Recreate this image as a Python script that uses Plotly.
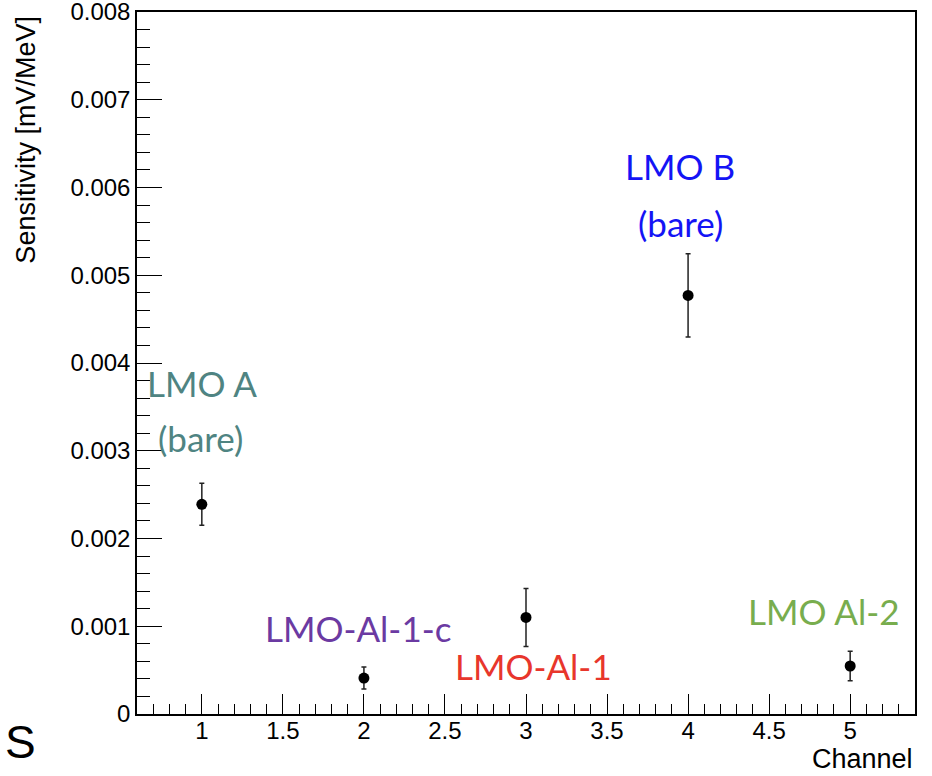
import plotly.graph_objects as go

channels = [1, 2, 3, 4, 5]
sensitivity = [0.00239, 0.00041, 0.00110, 0.00477, 0.000547]
sens_err = [0.00024, 0.000125, 0.00033, 0.000475, 0.000167]

y_tickvals = [0, 0.001, 0.002, 0.003, 0.004, 0.005, 0.006, 0.007, 0.008]
y_ticktext = ["0", "0.001", "0.002", "0.003", "0.004", "0.005", "0.006", "0.007", "0.008"]
x_tickvals = [1, 1.5, 2, 2.5, 3, 3.5, 4, 4.5, 5]
x_ticktext = ["1", "1.5", "2", "2.5", "3", "3.5", "4", "4.5", "5"]

label_texts = ["LMO A", "(bare)", "LMO B", "(bare)", "LMO-Al-1-c", "LMO-Al-1", "LMO Al-2"]
label_x = [1.0, 0.99, 3.953, 3.953, 1.965, 3.049, 4.835]
label_y = [0.00377, 0.00314, 0.00624, 0.0056, 0.00098, 0.000545, 0.00117]
label_colors = ["#4f8482", "#4f8482", "#1414f5", "#1414f5", "#6b3aa2", "#e8362c", "#78ad4e"]

fig = go.Figure()
fig.add_trace(go.Scatter(
    x=channels, y=sensitivity, mode="markers",
    marker=dict(color="black", size=11, symbol="circle"),
    error_y=dict(type="data", array=sens_err, visible=True, color="#222222", thickness=1.5, width=2.5),
    showlegend=False,
))

tick_font = dict(family="Liberation Sans, Arial, sans-serif", size=24, color="black")

fig.update_layout(
    width=932, height=776,
    margin=dict(l=137, r=17, t=12, b=62, autoexpand=False),
    paper_bgcolor="white", plot_bgcolor="white",
    xaxis=dict(
        range=[0.6, 5.4], showgrid=False, zeroline=False, automargin=False,
        showline=True, linecolor="black", linewidth=1.5, mirror=True,
        ticks="inside", ticklen=20, tickwidth=1.2, tickcolor="black",
        tickvals=x_tickvals, ticktext=x_ticktext, tickfont=tick_font,
        ticklabelstandoff=-6,
        minor=dict(dtick=0.1, tick0=0, ticks="inside", ticklen=10, tickwidth=1.2, tickcolor="black", showgrid=False),
    ),
    yaxis=dict(
        range=[0, 0.0080002], showgrid=False, zeroline=False, automargin=False,
        showline=True, linecolor="black", linewidth=1.5, mirror=True,
        ticks="inside", ticklen=25, tickwidth=1.2, tickcolor="black",
        tickvals=y_tickvals, ticktext=y_ticktext, tickfont=tick_font,
        ticklabeloverflow="allow",
        minor=dict(dtick=0.0002, tick0=0, ticks="inside", ticklen=13, tickwidth=1.2, tickcolor="black", showgrid=False),
    ),
)

annotations = []
for t, x, y, c in zip(label_texts, label_x, label_y, label_colors):
    annotations.append(dict(
        x=x, y=y, xref="x", yref="y", text=t, showarrow=False,
        font=dict(family="Lato, Open Sans, sans-serif", size=35, color=c),
        xanchor="center", yanchor="middle",
    ))

annotations.append(dict(
    x=1.0, y=-0.0884, xref="paper", yref="paper", text="Channel", showarrow=False,
    font=dict(family="Liberation Sans, Arial, sans-serif", size=27, color="black"),
    xanchor="right", yanchor="bottom",
))
annotations.append(dict(
    x=-0.142, y=0.997, xref="paper", yref="paper", text="Sensitivity [mV/MeV]", showarrow=False,
    textangle=-90,
    font=dict(family="Liberation Sans, Arial, sans-serif", size=27, color="black"),
    xanchor="center", yanchor="top",
))
annotations.append(dict(
    x=-0.172, y=0.0, xref="paper", yref="paper", text="S", showarrow=False,
    font=dict(family="Liberation Sans, Arial, sans-serif", size=46, color="black"),
    xanchor="left", yanchor="top",
))
fig.update_layout(annotations=annotations)

fig.write_html("out.html")
